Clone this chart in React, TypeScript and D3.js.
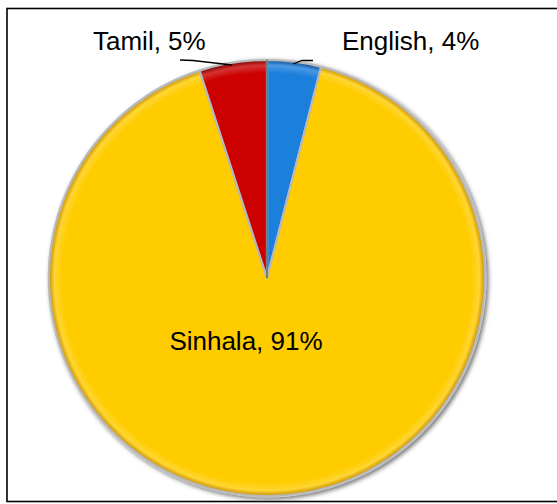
import React from "react";
import * as d3 from "d3";

const categories = ["English", "Sinhala", "Tamil"];
const values = [4, 91, 5];
const labels = ["English, 4%", "Sinhala, 91%", "Tamil, 5%"];
const colors = ["#1b7fdc", "#ffcc00", "#cc0000"];
const darkColors = ["#0d4f93", "#c98f00", "#7a0000"];

export default function App() {
  const W = 557;
  const H = 504;
  const cx = 267;
  const cy = 278;
  const R = 218;

  const pie = d3.pie<number>().sort(null).startAngle(0).endAngle(2 * Math.PI);
  const arcs = pie(values);
  const arc = d3.arc<d3.PieArcDatum<number>>().innerRadius(0).outerRadius(R);

  const labelPos: Array<[number, number, string]> = [
    [342 - cx, 50 - cy, "start"],
    [246 - cx, 350 - cy, "middle"],
    [93 - cx, 50 - cy, "start"],
  ];
  const leaders: Array<Array<[number, number]> | null> = [
    [[293, 64], [302, 60.5], [313, 60.5]],
    null,
    [[180, 60], [193, 60.5], [232, 65]],
  ];
  const line = d3.line<[number, number]>().x((d) => d[0]).y((d) => d[1]);

  return (
    <svg
      width={W}
      height={H}
      style={{ position: "absolute", left: 0, top: 0, display: "block" }}
      fontFamily="'Liberation Sans', Arial, sans-serif"
    >
      <defs>
        <filter id="shadow" x="-10%" y="-10%" width="120%" height="120%">
          <feGaussianBlur in="SourceAlpha" stdDeviation="2" />
          <feOffset dx="2" dy="2" result="ob" />
          <feFlood floodColor="#555" floodOpacity="0.8" />
          <feComposite in2="ob" operator="in" />
          <feMerge>
            <feMergeNode />
            <feMergeNode in="SourceGraphic" />
          </feMerge>
        </filter>
        {categories.map((c, i) => (
          <radialGradient
            key={c}
            id={`g${i}`}
            gradientUnits="userSpaceOnUse"
            cx={0}
            cy={0}
            r={R}
          >
            <stop offset="0" stopColor={colors[i]} />
            <stop offset="0.94" stopColor={colors[i]} />
            <stop offset="0.975" stopColor={d3.interpolateRgb(colors[i], "#ffffff")(0.2)} />
            <stop offset="1" stopColor={darkColors[i]} />
          </radialGradient>
        ))}
      </defs>
      <rect x={7} y={8.5} width={560} height={493} fill="#fff" stroke="#000" strokeWidth={1.6} />
      <g transform={`translate(${cx},${cy})`}>
        <circle r={R + 1.5} fill="#d8d8d8" filter="url(#shadow)" />
        {arcs.map((a, i) => (
          <path
            key={categories[i]}
            d={arc(a) || ""}
            fill={`url(#g${i})`}
            stroke="#b8b8b8"
            strokeWidth={2.2}
            strokeLinejoin="round"
          />
        ))}
        <line x1={0} y1={0} x2={0} y2={-R} stroke="#666" strokeWidth={1.5} />
      </g>
      {leaders.map((l, i) =>
        l ? <path key={i} d={line(l) || ""} fill="none" stroke="#000" strokeWidth={1.3} /> : null
      )}
      {labels.map((t, i) => (
        <text
          key={t}
          x={cx + labelPos[i][0]}
          y={cy + labelPos[i][1]}
          textAnchor={labelPos[i][2]}
          fontSize={26}
          fill="#000"
        >
          {t}
        </text>
      ))}
    </svg>
  );
}
